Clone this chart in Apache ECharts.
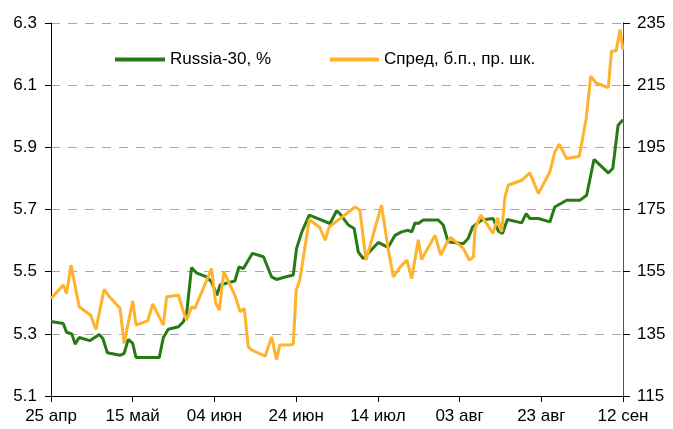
<!DOCTYPE html>
<html>
<head>
<meta charset="utf-8">
<title>Russia-30 и спред</title>
<script src="https://cdn.jsdelivr.net/npm/echarts@6/dist/echarts.min.js"></script>
<style>
  html, body { margin: 0; padding: 0; background: #fff; }
  #chart { width: 673px; height: 429px; }
</style>
</head>
<body>
<div id="chart"></div>
<script>
// подписи оси X (шаг 20 дней от 25 апр)
const xLabels = ['25 апр', '15 май', '04 июн', '24 июн', '14 июл', '03 авг', '23 авг', '12 сен'];

// Russia-30, % (левая шкала); дни от 25 апр
const russiaDays = [0, 3, 3.8, 5.1, 5.9, 6.9, 9.5, 11.8, 12.7, 13.8, 16.9, 17.9, 18.9, 20, 20.8,
  26.5, 27.5, 28.7, 31.2, 32.4, 33.2, 34.4, 35.7, 38.1, 39.3, 40.6, 41.4, 42.6, 45, 46, 47.1,
  49.3, 52, 54, 55.2, 57.3, 59.3, 60.1, 61.4, 63.2, 68.3, 69.9, 70.7, 72.8, 74.2, 75.2, 76.4,
  80.1, 82.5, 84.2, 85.8, 87.4, 88.3, 89.1, 89.9, 91.1, 94.8, 96, 97.2, 100.9, 102.1, 103.2,
  105.4, 108.2, 109.5, 110.5, 111.7, 115.2, 116.3, 117.2, 119.3, 122.1, 123.3, 126.2, 129.5,
  131.1, 132.9, 136.4, 137.5, 138.8, 140];
const russiaYield = [5.34, 5.333, 5.305, 5.30, 5.267, 5.288, 5.278, 5.298, 5.285, 5.239, 5.231,
  5.237, 5.282, 5.269, 5.224, 5.224, 5.288, 5.315, 5.323, 5.339, 5.366, 5.513, 5.495, 5.483,
  5.467, 5.424, 5.457, 5.462, 5.47, 5.515, 5.51, 5.559, 5.548, 5.483, 5.475, 5.483, 5.489,
  5.575, 5.628, 5.682, 5.655, 5.696, 5.687, 5.65, 5.639, 5.564, 5.542, 5.594, 5.578, 5.617,
  5.628, 5.633, 5.628, 5.657, 5.655, 5.666, 5.666, 5.65, 5.596, 5.59, 5.607, 5.644, 5.666,
  5.671, 5.63, 5.623, 5.668, 5.657, 5.687, 5.671, 5.671, 5.66, 5.708, 5.73, 5.73, 5.746,
  5.861, 5.818, 5.832, 5.971, 5.989];

// Спред, б.п. (правая шкала)
const spreadDays = [0, 3, 3.8, 4.9, 6.9, 9.7, 11, 13, 14.3, 16.9, 17.9, 20, 20.8, 23.7, 24.9,
  27.5, 28.3, 31.2, 32.4, 33.2, 34.4, 35.2, 39.3, 40.3, 41.2, 42.3, 45, 46.3, 47.3, 48.3, 49.1,
  52.4, 54, 55.2, 56, 58.7, 59.3, 60, 60.9, 63.2, 65.8, 67.1, 68.1, 70.3, 74.4, 75.6, 77.1,
  80.9, 82.5, 83.8, 85.4, 87.1, 88.3, 89.9, 90.7, 94, 95.4, 96.8, 97.8, 100.9, 102.4, 103.4,
  103.8, 105.2, 108.2, 109.3, 110.3, 111.1, 111.9, 115.2, 117.2, 119.3, 122.1, 123.3, 124.4,
  126.2, 129.3, 131, 132.1, 133.4, 136.4, 137.2, 138.3, 139.3, 140];
const spreadBp = [146.4, 150.7, 148, 157.1, 143.7, 141, 136.4, 149.3, 146.9, 143.2, 131.9, 145.6,
  137.8, 139.2, 144.6, 137.8, 146.9, 147.4, 142.1, 139.4, 143.7, 143.2, 156, 145, 142.6, 155,
  147.4, 142.1, 143.2, 130.8, 129.8, 127.8, 134, 126.8, 131.4, 131.5, 131.7, 149, 152.3, 171.8,
  169.2, 165.1, 169.4, 171.6, 175.8, 174.8, 158.7, 176.4, 162.5, 153.3, 156.4, 158.7, 152.8,
  165.3, 158.9, 166.7, 160.3, 164.1, 166, 162.5, 158.7, 159.8, 169, 173.2, 167.3, 172.3, 167.8,
  179, 182.8, 184.4, 186.8, 180.1, 187.1, 193.5, 196, 191.4, 192.1, 204.3, 217.9, 215.7, 214.2,
  226, 226, 232.9, 226.4];

const GREEN = '#287a17';
const ORANGE = '#ffb22c';
const FONT = 'Liberation Sans, Arial, sans-serif';

const chart = echarts.init(document.getElementById('chart'));

const option = {
  animation: false,
  textStyle: { fontFamily: FONT },
  grid: { left: 51, right: 50, top: 23, bottom: 33 },
  legend: [
    {
      left: 115, top: 51, padding: 0,
      icon: 'rect', itemWidth: 50, itemHeight: 4, itemGap: 0,
      textStyle: { fontSize: 17, color: '#000', fontFamily: FONT },
      data: ['Russia-30, %']
    },
    {
      left: 330, top: 51, padding: 0,
      icon: 'rect', itemWidth: 49, itemHeight: 4, itemGap: 0,
      textStyle: { fontSize: 17, color: '#000', fontFamily: FONT },
      data: ['Спред, б.п., пр. шк.']
    }
  ],
  xAxis: {
    type: 'value',
    min: 0, max: 140, interval: 20,
    axisLine: { show: true, lineStyle: { color: '#000', width: 1 } },
    axisTick: { show: true, length: 6, lineStyle: { color: '#000' } },
    axisLabel: {
      margin: 12, fontSize: 17, color: '#000',
      formatter: v => xLabels[Math.round(v / 20)] || ''
    },
    splitLine: { show: false }
  },
  yAxis: [
    {
      type: 'value',
      min: 5.1, max: 6.3, interval: 0.2,
      axisLine: { show: true, lineStyle: { color: '#000', width: 1 } },
      axisTick: { show: true, length: 6, lineStyle: { color: '#000' } },
      axisLabel: { margin: 14, fontSize: 17, color: '#000', formatter: v => v.toFixed(1) },
      splitLine: { show: true, lineStyle: { color: '#a6a6a6', type: [9, 8], width: 1 } }
    },
    {
      type: 'value',
      min: 115, max: 235, interval: 20,
      position: 'right',
      axisLine: { show: true, lineStyle: { color: '#555', width: 1 } },
      axisTick: { show: true, length: 7, lineStyle: { color: '#000' } },
      axisLabel: { margin: 14, fontSize: 17, color: '#000' },
      splitLine: { show: false }
    }
  ],
  series: [
    {
      name: 'Russia-30, %',
      type: 'line',
      yAxisIndex: 0,
      symbol: 'none',
      color: GREEN,
      lineStyle: { color: GREEN, width: 3 },
      data: russiaDays.map((d, i) => [d, russiaYield[i]])
    },
    {
      name: 'Спред, б.п., пр. шк.',
      type: 'line',
      yAxisIndex: 1,
      symbol: 'none',
      color: ORANGE,
      lineStyle: { color: ORANGE, width: 3 },
      data: spreadDays.map((d, i) => [d, spreadBp[i]])
    }
  ]
};

chart.setOption(option);
</script>
</body>
</html>
